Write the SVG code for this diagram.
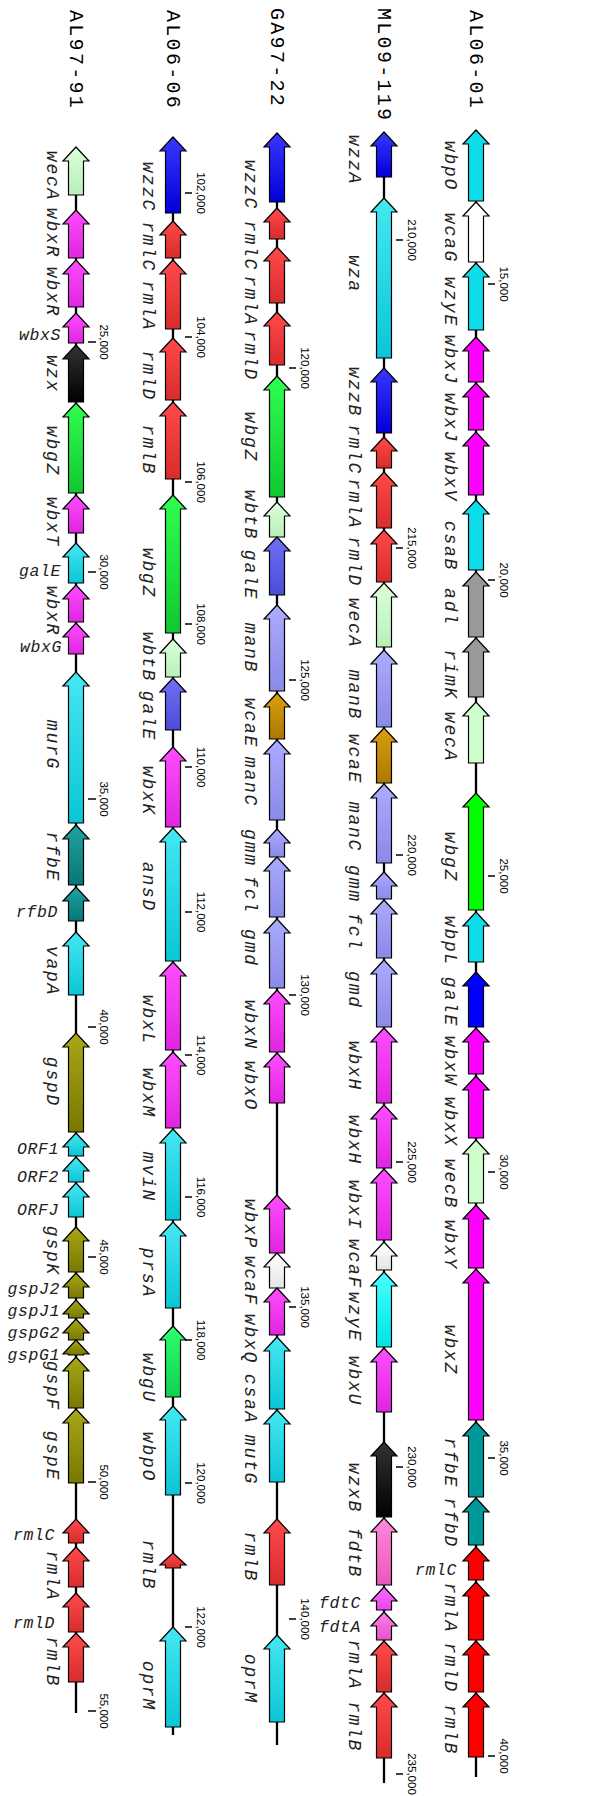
<svg xmlns="http://www.w3.org/2000/svg" width="605" height="1796" viewBox="0 0 605 1796">
<style>
.bb{stroke:#000;stroke-width:2.3;fill:none}
.tm{stroke:#000;stroke-width:1.5}
path{stroke:#000;stroke-width:1.2;stroke-linejoin:miter}
.ttl{font-family:"Liberation Mono",monospace;font-size:20px;letter-spacing:2.3px;fill:#000}
.lb{font-family:"Liberation Mono",monospace;font-style:italic;font-size:18px;letter-spacing:1.8px;fill:#222;text-anchor:middle}
.lh{font-family:"Liberation Mono",monospace;font-style:italic;font-size:16.5px;letter-spacing:0.6px;fill:#222;text-anchor:end}
.tk{font-family:"Liberation Sans",Arial,sans-serif;font-size:11.5px;fill:#000;text-anchor:middle}
.fcy{fill:#0ddde8}.fwh{fill:#fff}.fmg{fill:#ff00ff}.fgy{fill:#999}.flg{fill:#ccffcc}.fgr{fill:#00ff00}.fbl{fill:#0000ff}.ftl{fill:#009999}.frd{fill:#ff0000}
.cy{fill:url(#gCy)}.mg{fill:url(#gMg)}.rd{fill:url(#gRd)}.gr{fill:url(#gGr)}.bl{fill:url(#gBl)}.lg{fill:url(#gLg)}.pe{fill:url(#gPe)}.dp{fill:url(#gDp)}.go{fill:url(#gGo)}.tl{fill:url(#gTl)}.ol{fill:url(#gOl)}.bk{fill:url(#gBk)}.wh{fill:url(#gWh)}.aq{fill:url(#gAq)}.pk{fill:url(#gPk)}.pm{fill:url(#gPm)}.pa{fill:url(#gPa)}.gu{fill:url(#gGu)}
</style>
<defs>
<linearGradient id="gCy" x1="0" y1="0" x2="0" y2="1"><stop offset="0" stop-color="#45e8f2"/><stop offset="1" stop-color="#0ac6d6"/></linearGradient>
<linearGradient id="gMg" x1="0" y1="0" x2="0" y2="1"><stop offset="0" stop-color="#ff4dff"/><stop offset="1" stop-color="#e025e0"/></linearGradient>
<linearGradient id="gRd" x1="0" y1="0" x2="0" y2="1"><stop offset="0" stop-color="#ff4a4a"/><stop offset="1" stop-color="#d82c2c"/></linearGradient>
<linearGradient id="gGr" x1="0" y1="0" x2="0" y2="1"><stop offset="0" stop-color="#30ff50"/><stop offset="1" stop-color="#10c830"/></linearGradient>
<linearGradient id="gGu" x1="0" y1="0" x2="0" y2="1"><stop offset="0" stop-color="#30ff70"/><stop offset="1" stop-color="#10d050"/></linearGradient>
<linearGradient id="gBl" x1="0" y1="0" x2="0" y2="1"><stop offset="0" stop-color="#3838ff"/><stop offset="1" stop-color="#0000d8"/></linearGradient>
<linearGradient id="gLg" x1="0" y1="0" x2="0" y2="1"><stop offset="0" stop-color="#dcffdc"/><stop offset="1" stop-color="#b8f0b8"/></linearGradient>
<linearGradient id="gPe" x1="0" y1="0" x2="0" y2="1"><stop offset="0" stop-color="#ababff"/><stop offset="1" stop-color="#8a8ae8"/></linearGradient>
<linearGradient id="gDp" x1="0" y1="0" x2="0" y2="1"><stop offset="0" stop-color="#7070f4"/><stop offset="1" stop-color="#4c4cd8"/></linearGradient>
<linearGradient id="gGo" x1="0" y1="0" x2="0" y2="1"><stop offset="0" stop-color="#d8a010"/><stop offset="1" stop-color="#ad7800"/></linearGradient>
<linearGradient id="gTl" x1="0" y1="0" x2="0" y2="1"><stop offset="0" stop-color="#22a2a2"/><stop offset="1" stop-color="#087676"/></linearGradient>
<linearGradient id="gOl" x1="0" y1="0" x2="0" y2="1"><stop offset="0" stop-color="#a8a818"/><stop offset="1" stop-color="#787800"/></linearGradient>
<linearGradient id="gBk" x1="0" y1="0" x2="0" y2="1"><stop offset="0" stop-color="#333"/><stop offset="1" stop-color="#000"/></linearGradient>
<linearGradient id="gWh" x1="0" y1="0" x2="0" y2="1"><stop offset="0" stop-color="#fff"/><stop offset="1" stop-color="#e4e4e4"/></linearGradient>
<linearGradient id="gAq" x1="0" y1="0" x2="0" y2="1"><stop offset="0" stop-color="#48ffff"/><stop offset="1" stop-color="#00e4e4"/></linearGradient>
<linearGradient id="gPk" x1="0" y1="0" x2="0" y2="1"><stop offset="0" stop-color="#ff88dd"/><stop offset="1" stop-color="#e858b8"/></linearGradient>
<linearGradient id="gPm" x1="0" y1="0" x2="0" y2="1"><stop offset="0" stop-color="#ff6aff"/><stop offset="1" stop-color="#ec44ec"/></linearGradient>
<linearGradient id="gPa" x1="0" y1="0" x2="0" y2="1"><stop offset="0" stop-color="#ff7aee"/><stop offset="1" stop-color="#e655cc"/></linearGradient>
</defs>

<g id="connectors">
<line class="bb" x1="476" y1="130" x2="476" y2="1777"/>
<line class="bb" x1="384" y1="132" x2="384" y2="1783"/>
<line class="bb" x1="277" y1="133" x2="277" y2="1745"/>
<line class="bb" x1="173" y1="137" x2="173" y2="1735"/>
<line class="bb" x1="76" y1="147" x2="76" y2="1713"/>
</g>

<g id="axis">
<line class="tm" x1="488" x2="495" y1="284" y2="284"/><text class="tk" transform="translate(500 284) rotate(90)">15,000</text>
<line class="tm" x1="488" x2="495" y1="580" y2="580"/><text class="tk" transform="translate(500 580) rotate(90)">20,000</text>
<line class="tm" x1="488" x2="495" y1="876" y2="876"/><text class="tk" transform="translate(500 876) rotate(90)">25,000</text>
<line class="tm" x1="488" x2="495" y1="1172" y2="1172"/><text class="tk" transform="translate(500 1172) rotate(90)">30,000</text>
<line class="tm" x1="488" x2="495" y1="1458" y2="1458"/><text class="tk" transform="translate(500 1458) rotate(90)">35,000</text>
<line class="tm" x1="488" x2="495" y1="1756" y2="1756"/><text class="tk" transform="translate(500 1756) rotate(90)">40,000</text>

<line class="tm" x1="396" x2="403" y1="240" y2="240"/><text class="tk" transform="translate(408 240) rotate(90)">210,000</text>
<line class="tm" x1="396" x2="403" y1="548" y2="548"/><text class="tk" transform="translate(408 548) rotate(90)">215,000</text>
<line class="tm" x1="396" x2="403" y1="855" y2="855"/><text class="tk" transform="translate(408 855) rotate(90)">220,000</text>
<line class="tm" x1="396" x2="403" y1="1162" y2="1162"/><text class="tk" transform="translate(408 1162) rotate(90)">225,000</text>
<line class="tm" x1="396" x2="403" y1="1467" y2="1467"/><text class="tk" transform="translate(408 1467) rotate(90)">230,000</text>
<line class="tm" x1="396" x2="403" y1="1774" y2="1774"/><text class="tk" transform="translate(408 1774) rotate(90)">235,000</text>

<line class="tm" x1="289" x2="296" y1="368" y2="368"/><text class="tk" transform="translate(301 368) rotate(90)">120,000</text>
<line class="tm" x1="289" x2="296" y1="680" y2="680"/><text class="tk" transform="translate(301 680) rotate(90)">125,000</text>
<line class="tm" x1="289" x2="296" y1="995" y2="995"/><text class="tk" transform="translate(301 995) rotate(90)">130,000</text>
<line class="tm" x1="289" x2="296" y1="1307" y2="1307"/><text class="tk" transform="translate(301 1307) rotate(90)">135,000</text>
<line class="tm" x1="289" x2="296" y1="1619" y2="1619"/><text class="tk" transform="translate(301 1619) rotate(90)">140,000</text>

<line class="tm" x1="185" x2="192" y1="193" y2="193"/><text class="tk" transform="translate(197 193) rotate(90)">102,000</text>
<line class="tm" x1="185" x2="192" y1="337" y2="337"/><text class="tk" transform="translate(197 337) rotate(90)">104,000</text>
<line class="tm" x1="185" x2="192" y1="482" y2="482"/><text class="tk" transform="translate(197 482) rotate(90)">106,000</text>
<line class="tm" x1="185" x2="192" y1="624" y2="624"/><text class="tk" transform="translate(197 624) rotate(90)">108,000</text>
<line class="tm" x1="185" x2="192" y1="767" y2="767"/><text class="tk" transform="translate(197 767) rotate(90)">110,000</text>
<line class="tm" x1="185" x2="192" y1="912" y2="912"/><text class="tk" transform="translate(197 912) rotate(90)">112,000</text>
<line class="tm" x1="185" x2="192" y1="1055" y2="1055"/><text class="tk" transform="translate(197 1055) rotate(90)">114,000</text>
<line class="tm" x1="185" x2="192" y1="1197" y2="1197"/><text class="tk" transform="translate(197 1197) rotate(90)">116,000</text>
<line class="tm" x1="185" x2="192" y1="1340" y2="1340"/><text class="tk" transform="translate(197 1340) rotate(90)">118,000</text>
<line class="tm" x1="185" x2="192" y1="1483" y2="1483"/><text class="tk" transform="translate(197 1483) rotate(90)">120,000</text>
<line class="tm" x1="185" x2="192" y1="1627" y2="1627"/><text class="tk" transform="translate(197 1627) rotate(90)">122,000</text>

<line class="tm" x1="88" x2="96" y1="342" y2="342"/><text class="tk" transform="translate(100 342) rotate(90)">25,000</text>
<line class="tm" x1="88" x2="96" y1="572" y2="572"/><text class="tk" transform="translate(100 572) rotate(90)">30,000</text>
<line class="tm" x1="88" x2="96" y1="799" y2="799"/><text class="tk" transform="translate(100 799) rotate(90)">35,000</text>
<line class="tm" x1="88" x2="96" y1="1027" y2="1027"/><text class="tk" transform="translate(100 1027) rotate(90)">40,000</text>
<line class="tm" x1="88" x2="96" y1="1257" y2="1257"/><text class="tk" transform="translate(100 1257) rotate(90)">45,000</text>
<line class="tm" x1="88" x2="96" y1="1482" y2="1482"/><text class="tk" transform="translate(100 1482) rotate(90)">50,000</text>
<line class="tm" x1="88" x2="96" y1="1711" y2="1711"/><text class="tk" transform="translate(100 1711) rotate(90)">55,000</text>
</g>

<g id="track-AL06-01">
<text class="ttl" transform="translate(469.5 10) rotate(90)">AL06-01</text>
<g id="a1-wbpO"><path class="fcy" d="M476 130L489 144H483.5V201H468.5V144H463Z"/><text class="lb" transform="translate(445 166) rotate(90)">wbpO</text></g>
<g id="a1-wcaG"><path class="fwh" d="M476 202L489 216H483.5V262H468.5V216H463Z"/><text class="lb" transform="translate(445 238) rotate(90)">wcaG</text></g>
<g id="a1-wzyE"><path class="fcy" d="M476 263L489 277H483.5V330H468.5V277H463Z"/><text class="lb" transform="translate(445 302) rotate(90)">wzyE</text></g>
<g id="a1-wbxJ"><path class="fmg" d="M476 337L489 351H483.5V382H468.5V351H463Z"/><text class="lb" transform="translate(445 360) rotate(90)">wbxJ</text></g>
<g id="a1-wbxJ2"><path class="fmg" d="M476 383L489 397H483.5V430H468.5V397H463Z"/><text class="lb" transform="translate(445 418) rotate(90)">wbxJ</text></g>
<g id="a1-wbxV"><path class="fmg" d="M476 432L489 446H483.5V495H468.5V446H463Z"/><text class="lb" transform="translate(445 477) rotate(90)">wbxV</text></g>
<g id="a1-csaB"><path class="fcy" d="M476 500L489 514H483.5V570H468.5V514H463Z"/><text class="lb" transform="translate(445 546) rotate(90)">csaB</text></g>
<g id="a1-adl"><path class="fgy" d="M476 572L489 586H483.5V637H468.5V586H463Z"/><text class="lb" transform="translate(445 607) rotate(90)">adl</text></g>
<g id="a1-rimK"><path class="fgy" d="M476 638L489 652H483.5V697H468.5V652H463Z"/><text class="lb" transform="translate(445 675) rotate(90)">rimK</text></g>
<g id="a1-wecA"><path class="flg" d="M476 702L489 716H483.5V763H468.5V716H463Z"/><text class="lb" transform="translate(445 737) rotate(90)">wecA</text></g>
<g id="a1-wbgZ"><path class="fgr" d="M476 793L489 807H483.5V910H468.5V807H463Z"/><text class="lb" transform="translate(445 857) rotate(90)">wbgZ</text></g>
<g id="a1-wbpL"><path class="fcy" d="M476 912L489 926H483.5V962H468.5V926H463Z"/><text class="lb" transform="translate(445 941) rotate(90)">wbpL</text></g>
<g id="a1-galE"><path class="fbl" d="M476 972L489 986H483.5V1027H468.5V986H463Z"/><text class="lb" transform="translate(445 1002) rotate(90)">galE</text></g>
<g id="a1-wbxW"><path class="fmg" d="M476 1028L489 1042H483.5V1074H468.5V1042H463Z"/><text class="lb" transform="translate(445 1061) rotate(90)">wbxW</text></g>
<g id="a1-wbxX"><path class="fmg" d="M476 1076L489 1090H483.5V1138H468.5V1090H463Z"/><text class="lb" transform="translate(445 1122) rotate(90)">wbxX</text></g>
<g id="a1-wecB"><path class="flg" d="M476 1140L489 1154H483.5V1203H468.5V1154H463Z"/><text class="lb" transform="translate(445 1184) rotate(90)">wecB</text></g>
<g id="a1-wbxY"><path class="fmg" d="M476 1205L489 1219H483.5V1268H468.5V1219H463Z"/><text class="lb" transform="translate(445 1245) rotate(90)">wbxY</text></g>
<g id="a1-wbxZ"><path class="fmg" d="M476 1269L489 1283H483.5V1420H468.5V1283H463Z"/><text class="lb" transform="translate(445 1350) rotate(90)">wbxZ</text></g>
<g id="a1-rfbE"><path class="ftl" d="M476 1422L489 1436H483.5V1497H468.5V1436H463Z"/><text class="lb" transform="translate(445 1463) rotate(90)">rfbE</text></g>
<g id="a1-rfbD"><path class="ftl" d="M476 1498L489 1512H483.5V1545H468.5V1512H463Z"/><text class="lb" transform="translate(445 1523) rotate(90)">rfbD</text></g>
<g id="a1-rmlC"><path class="frd" d="M476 1547L489 1561H483.5V1580H468.5V1561H463Z"/><text class="lh" x="457" y="1575">rmlC</text></g>
<g id="a1-rmlA"><path class="frd" d="M476 1582L489 1596H483.5V1640H468.5V1596H463Z"/><text class="lb" transform="translate(445 1608) rotate(90)">rmlA</text></g>
<g id="a1-rmlD"><path class="frd" d="M476 1641L489 1655H483.5V1692H468.5V1655H463Z"/><text class="lb" transform="translate(445 1668) rotate(90)">rmlD</text></g>
<g id="a1-rmlB"><path class="frd" d="M476 1693L489 1707H483.5V1757H468.5V1707H463Z"/><text class="lb" transform="translate(445 1730) rotate(90)">rmlB</text></g>
</g>

<g id="track-ML09-119">
<text class="ttl" transform="translate(377.5 8) rotate(90)">ML09-119</text>
<g id="m-wzzA"><path class="bl" d="M384 132L397 146H391.5V177H376.5V146H371Z"/><text class="lb" transform="translate(349 160) rotate(90)">wzzA</text></g>
<g id="m-wza"><path class="cy" d="M384 198L397 212H391.5V358H376.5V212H371Z"/><text class="lb" transform="translate(349 274) rotate(90)">wza</text></g>
<g id="m-wzzB"><path class="bl" d="M384 368L397 382H391.5V433H376.5V382H371Z"/><text class="lb" transform="translate(349 392) rotate(90)">wzzB</text></g>
<g id="m-rmlC"><path class="rd" d="M384 437L397 451H391.5V468H376.5V451H371Z"/><text class="lb" transform="translate(349 450) rotate(90)">rmlC</text></g>
<g id="m-rmlA"><path class="rd" d="M384 472L397 486H391.5V528H376.5V486H371Z"/><text class="lb" transform="translate(349 504) rotate(90)">rmlA</text></g>
<g id="m-rmlD"><path class="rd" d="M384 530L397 544H391.5V582H376.5V544H371Z"/><text class="lb" transform="translate(349 562) rotate(90)">rmlD</text></g>
<g id="m-wecA"><path class="lg" d="M384 583L397 597H391.5V647H376.5V597H371Z"/><text class="lb" transform="translate(349 623) rotate(90)">wecA</text></g>
<g id="m-manB"><path class="pe" d="M384 650L397 664H391.5V727H376.5V664H371Z"/><text class="lb" transform="translate(349 695) rotate(90)">manB</text></g>
<g id="m-wcaE"><path class="go" d="M384 728L397 742H391.5V783H376.5V742H371Z"/><text class="lb" transform="translate(349 759) rotate(90)">wcaE</text></g>
<g id="m-manC"><path class="pe" d="M384 784L397 798H391.5V863H376.5V798H371Z"/><text class="lb" transform="translate(349 827) rotate(90)">manC</text></g>
<g id="m-gmm"><path class="pe" d="M384 872L397 886H391.5V899H376.5V886H371Z"/><text class="lb" transform="translate(349 884) rotate(90)">gmm</text></g>
<g id="m-fcl"><path class="pe" d="M384 900L397 914H391.5V958H376.5V914H371Z"/><text class="lb" transform="translate(349 932) rotate(90)">fcl</text></g>
<g id="m-gmd"><path class="pe" d="M384 960L397 974H391.5V1027H376.5V974H371Z"/><text class="lb" transform="translate(349 990) rotate(90)">gmd</text></g>
<g id="m-wbxH"><path class="mg" d="M384 1028L397 1042H391.5V1103H376.5V1042H371Z"/><text class="lb" transform="translate(349 1066) rotate(90)">wbxH</text></g>
<g id="m-wbxH2"><path class="mg" d="M384 1105L397 1119H391.5V1168H376.5V1119H371Z"/><text class="lb" transform="translate(349 1140) rotate(90)">wbxH</text></g>
<g id="m-wbxI"><path class="mg" d="M384 1169L397 1183H391.5V1240H376.5V1183H371Z"/><text class="lb" transform="translate(349 1205) rotate(90)">wbxI</text></g>
<g id="m-wcaF"><path class="wh" d="M384 1242L397 1256H391.5V1270H376.5V1256H371Z"/><text class="lb" transform="translate(349 1264) rotate(90)">wcaF</text></g>
<g id="m-wzyE"><path class="aq" d="M384 1272L397 1286H391.5V1347H376.5V1286H371Z"/><text class="lb" transform="translate(349 1317) rotate(90)">wzyE</text></g>
<g id="m-wbxU"><path class="mg" d="M384 1348L397 1362H391.5V1412H376.5V1362H371Z"/><text class="lb" transform="translate(349 1381) rotate(90)">wbxU</text></g>
<g id="m-wzxB"><path class="bk" d="M384 1442L397 1456H391.5V1517H376.5V1456H371Z"/><text class="lb" transform="translate(349 1488) rotate(90)">wzxB</text></g>
<g id="m-fdtB"><path class="pk" d="M384 1518L397 1532H391.5V1585H376.5V1532H371Z"/><text class="lb" transform="translate(349 1553) rotate(90)">fdtB</text></g>
<g id="m-fdtC"><path class="pm" d="M384 1587L397 1601H391.5V1610H376.5V1601H371Z"/><text class="lh" x="361" y="1608">fdtC</text></g>
<g id="m-fdtA"><path class="pa" d="M384 1612L397 1626H391.5V1640H376.5V1626H371Z"/><text class="lh" x="361" y="1632">fdtA</text></g>
<g id="m-rmlA2"><path class="rd" d="M384 1641L397 1655H391.5V1692H376.5V1655H371Z"/><text class="lb" transform="translate(349 1665) rotate(90)">rmlA</text></g>
<g id="m-rmlB"><path class="rd" d="M384 1693L397 1707H391.5V1758H376.5V1707H371Z"/><text class="lb" transform="translate(349 1727) rotate(90)">rmlB</text></g>
</g>

<g id="track-GA97-22">
<text class="ttl" transform="translate(270.5 8) rotate(90)">GA97-22</text>
<g id="g-wzzC"><path class="bl" d="M277 133L290 147H284.5V202H269.5V147H264Z"/><text class="lb" transform="translate(245 185) rotate(90)">wzzC</text></g>
<g id="g-rmlC"><path class="rd" d="M277 208L290 222H284.5V239H269.5V222H264Z"/><text class="lb" transform="translate(245 246) rotate(90)">rmlC</text></g>
<g id="g-rmlA"><path class="rd" d="M277 247L290 261H284.5V303H269.5V261H264Z"/><text class="lb" transform="translate(245 301) rotate(90)">rmlA</text></g>
<g id="g-rmlD"><path class="rd" d="M277 312L290 326H284.5V365H269.5V326H264Z"/><text class="lb" transform="translate(245 356) rotate(90)">rmlD</text></g>
<g id="g-wbgZ"><path class="gr" d="M277 376L290 390H284.5V497H269.5V390H264Z"/><text class="lb" transform="translate(245 437) rotate(90)">wbgZ</text></g>
<g id="g-wbtB"><path class="lg" d="M277 502L290 516H284.5V537H269.5V516H264Z"/><text class="lb" transform="translate(245 515) rotate(90)">wbtB</text></g>
<g id="g-galE"><path class="dp" d="M277 537L290 551H284.5V595H269.5V551H264Z"/><text class="lb" transform="translate(245 575) rotate(90)">galE</text></g>
<g id="g-manB"><path class="pe" d="M277 605L290 619H284.5V691H269.5V619H264Z"/><text class="lb" transform="translate(245 648) rotate(90)">manB</text></g>
<g id="g-wcaE"><path class="go" d="M277 693L290 707H284.5V739H269.5V707H264Z"/><text class="lb" transform="translate(245 723) rotate(90)">wcaE</text></g>
<g id="g-manC"><path class="pe" d="M277 740L290 754H284.5V820H269.5V754H264Z"/><text class="lb" transform="translate(245 782) rotate(90)">manC</text></g>
<g id="g-gmm"><path class="pe" d="M277 829L290 843H284.5V857H269.5V843H264Z"/><text class="lb" transform="translate(245 848) rotate(90)">gmm</text></g>
<g id="g-fcl"><path class="pe" d="M277 857L290 871H284.5V917H269.5V871H264Z"/><text class="lb" transform="translate(245 895) rotate(90)">fcl</text></g>
<g id="g-gmd"><path class="pe" d="M277 919L290 933H284.5V988H269.5V933H264Z"/><text class="lb" transform="translate(245 948) rotate(90)">gmd</text></g>
<g id="g-wbxN"><path class="mg" d="M277 990L290 1004H284.5V1052H269.5V1004H264Z"/><text class="lb" transform="translate(245 1025) rotate(90)">wbxN</text></g>
<g id="g-wbxO"><path class="mg" d="M277 1053L290 1067H284.5V1103H269.5V1067H264Z"/><text class="lb" transform="translate(245 1086) rotate(90)">wbxO</text></g>
<g id="g-wbxP"><path class="mg" d="M277 1195L290 1209H284.5V1253H269.5V1209H264Z"/><text class="lb" transform="translate(245 1224) rotate(90)">wbxP</text></g>
<g id="g-wcaF"><path class="wh" d="M277 1253L290 1267H284.5V1288H269.5V1267H264Z"/><text class="lb" transform="translate(245 1281) rotate(90)">wcaF</text></g>
<g id="g-wbxQ"><path class="mg" d="M277 1288L290 1302H284.5V1335H269.5V1302H264Z"/><text class="lb" transform="translate(245 1339) rotate(90)">wbxQ</text></g>
<g id="g-csaA"><path class="cy" d="M277 1337L290 1351H284.5V1409H269.5V1351H264Z"/><text class="lb" transform="translate(245 1399) rotate(90)">csaA</text></g>
<g id="g-mutG"><path class="cy" d="M277 1410L290 1424H284.5V1482H269.5V1424H264Z"/><text class="lb" transform="translate(245 1460) rotate(90)">mutG</text></g>
<g id="g-rmlB"><path class="rd" d="M277 1519L290 1533H284.5V1585H269.5V1533H264Z"/><text class="lb" transform="translate(245 1557) rotate(90)">rmlB</text></g>
<g id="g-oprM"><path class="cy" d="M277 1635L290 1649H284.5V1722H269.5V1649H264Z"/><text class="lb" transform="translate(245 1679) rotate(90)">oprM</text></g>
</g>

<g id="track-AL06-06">
<text class="ttl" transform="translate(166.5 10) rotate(90)">AL06-06</text>
<g id="b-wzzC"><path class="bl" d="M173 137L186 151H180.5V213H165.5V151H160Z"/><text class="lb" transform="translate(143 187) rotate(90)">wzzC</text></g>
<g id="b-rmlC"><path class="rd" d="M173 221L186 235H180.5V258H165.5V235H160Z"/><text class="lb" transform="translate(143 247) rotate(90)">rmlC</text></g>
<g id="b-rmlA"><path class="rd" d="M173 260L186 274H180.5V329H165.5V274H160Z"/><text class="lb" transform="translate(143 306) rotate(90)">rmlA</text></g>
<g id="b-rmlD"><path class="rd" d="M173 338L186 352H180.5V400H165.5V352H160Z"/><text class="lb" transform="translate(143 376) rotate(90)">rmlD</text></g>
<g id="b-rmlB"><path class="rd" d="M173 402L186 416H180.5V479H165.5V416H160Z"/><text class="lb" transform="translate(143 450) rotate(90)">rmlB</text></g>
<g id="b-wbgZ"><path class="gr" d="M173 495L186 509H180.5V633H165.5V509H160Z"/><text class="lb" transform="translate(143 573) rotate(90)">wbgZ</text></g>
<g id="b-wbtB"><path class="lg" d="M173 639L186 653H180.5V677H165.5V653H160Z"/><text class="lb" transform="translate(143 657) rotate(90)">wbtB</text></g>
<g id="b-galE"><path class="dp" d="M173 678L186 692H180.5V730H165.5V692H160Z"/><text class="lb" transform="translate(143 716) rotate(90)">galE</text></g>
<g id="b-wbxK"><path class="mg" d="M173 747L186 761H180.5V827H165.5V761H160Z"/><text class="lb" transform="translate(143 791) rotate(90)">wbxK</text></g>
<g id="b-ansD"><path class="cy" d="M173 828L186 842H180.5V961H165.5V842H160Z"/><text class="lb" transform="translate(143 887) rotate(90)">ansD</text></g>
<g id="b-wbxL"><path class="mg" d="M173 962L186 976H180.5V1050H165.5V976H160Z"/><text class="lb" transform="translate(143 1020) rotate(90)">wbxL</text></g>
<g id="b-wbxM"><path class="mg" d="M173 1052L186 1066H180.5V1128H165.5V1066H160Z"/><text class="lb" transform="translate(143 1093) rotate(90)">wbxM</text></g>
<g id="b-mviN"><path class="cy" d="M173 1129L186 1143H180.5V1220H165.5V1143H160Z"/><text class="lb" transform="translate(143 1177) rotate(90)">mviN</text></g>
<g id="b-prsA"><path class="cy" d="M173 1222L186 1236H180.5V1308H165.5V1236H160Z"/><text class="lb" transform="translate(143 1273) rotate(90)">prsA</text></g>
<g id="b-wbgU"><path class="gu" d="M173 1326L186 1340H180.5V1397H165.5V1340H160Z"/><text class="lb" transform="translate(143 1378) rotate(90)">wbgU</text></g>
<g id="b-wbpO"><path class="cy" d="M173 1406L186 1420H180.5V1495H165.5V1420H160Z"/><text class="lb" transform="translate(143 1457) rotate(90)">wbpO</text></g>
<g id="b-rmlB2"><path class="rd" d="M173 1553L186 1565H180.5V1568H165.5V1565H160Z"/><text class="lb" transform="translate(143 1565) rotate(90)">rmlB</text></g>
<g id="b-oprM"><path class="cy" d="M173 1627L186 1641H180.5V1727H165.5V1641H160Z"/><text class="lb" transform="translate(143 1686) rotate(90)">oprM</text></g>
</g>

<g id="track-AL97-91">
<text class="ttl" transform="translate(69.5 10) rotate(90)">AL97-91</text>
<g id="c-wecA"><path class="lg" d="M76 147L89 161H83.5V195H68.5V161H63Z"/><text class="lb" transform="translate(47 176) rotate(90)">wecA</text></g>
<g id="c-wbxR"><path class="mg" d="M76 210L89 224H83.5V258H68.5V224H63Z"/><text class="lb" transform="translate(47 233) rotate(90)">wbxR</text></g>
<g id="c-wbxR2"><path class="mg" d="M76 260L89 274H83.5V307H68.5V274H63Z"/><text class="lb" transform="translate(47 292) rotate(90)">wbxR</text></g>
<g id="c-wbxS"><path class="mg" d="M76 313L89 327H83.5V343H68.5V327H63Z"/><text class="lh" x="61" y="340">wbxS</text></g>
<g id="c-wzx"><path class="bk" d="M76 345L89 359H83.5V402H68.5V359H63Z"/><text class="lb" transform="translate(47 374) rotate(90)">wzx</text></g>
<g id="c-wbgZ"><path class="gr" d="M76 403L89 417H83.5V493H68.5V417H63Z"/><text class="lb" transform="translate(47 451) rotate(90)">wbgZ</text></g>
<g id="c-wbxT"><path class="mg" d="M76 495L89 509H83.5V533H68.5V509H63Z"/><text class="lb" transform="translate(47 522) rotate(90)">wbxT</text></g>
<g id="c-galE"><path class="cy" d="M76 543L89 557H83.5V583H68.5V557H63Z"/><text class="lh" x="61" y="576">galE</text></g>
<g id="c-wbxR3"><path class="mg" d="M76 585L89 599H83.5V622H68.5V599H63Z"/><text class="lb" transform="translate(47 611) rotate(90)">wbxR</text></g>
<g id="c-wbxG"><path class="mg" d="M76 623L89 637H83.5V654H68.5V637H63Z"/><text class="lh" x="62" y="652">wbxG</text></g>
<g id="c-murG"><path class="cy" d="M76 672L89 686H83.5V823H68.5V686H63Z"/><text class="lb" transform="translate(47 745) rotate(90)">murG</text></g>
<g id="c-rfbE"><path class="tl" d="M76 825L89 839H83.5V885H68.5V839H63Z"/><text class="lb" transform="translate(47 857) rotate(90)">rfbE</text></g>
<g id="c-rfbD"><path class="tl" d="M76 887L89 901H83.5V921H68.5V901H63Z"/><text class="lh" x="58" y="917">rfbD</text></g>
<g id="c-vapA"><path class="cy" d="M76 932L89 946H83.5V995H68.5V946H63Z"/><text class="lb" transform="translate(47 971) rotate(90)">vapA</text></g>
<g id="c-gspD"><path class="ol" d="M76 1033L89 1047H83.5V1132H68.5V1047H63Z"/><text class="lb" transform="translate(47 1082) rotate(90)">gspD</text></g>
<g id="c-ORF1"><path class="cy" d="M76 1133L89 1147H83.5V1156H68.5V1147H63Z"/><text class="lh" x="59" y="1154">ORF1</text></g>
<g id="c-ORF2"><path class="cy" d="M76 1157L89 1171H83.5V1182H68.5V1171H63Z"/><text class="lh" x="59" y="1182">ORF2</text></g>
<g id="c-ORFJ"><path class="cy" d="M76 1183L89 1197H83.5V1217H68.5V1197H63Z"/><text class="lh" x="59" y="1215">ORFJ</text></g>
<g id="c-gspK"><path class="ol" d="M76 1227L89 1241H83.5V1272H68.5V1241H63Z"/><text class="lb" transform="translate(47 1251) rotate(90)">gspK</text></g>
<g id="c-gspJ2"><path class="ol" d="M76 1273L89 1287H83.5V1298H68.5V1287H63Z"/><text class="lh" x="60" y="1294">gspJ2</text></g>
<g id="c-gspJ1"><path class="ol" d="M76 1300L89 1314H83.5V1318H68.5V1314H63Z"/><text class="lh" x="60" y="1316">gspJ1</text></g>
<g id="c-gspG2"><path class="ol" d="M76 1319L89 1333H83.5V1340H68.5V1333H63Z"/><text class="lh" x="60" y="1338">gspG2</text></g>
<g id="c-gspG1"><path class="ol" d="M76 1340L89 1354H83.5V1355H68.5V1354H63Z"/><text class="lh" x="60" y="1360">gspG1</text></g>
<g id="c-gspF"><path class="ol" d="M76 1357L89 1371H83.5V1408H68.5V1371H63Z"/><text class="lb" transform="translate(47 1386) rotate(90)">gspF</text></g>
<g id="c-gspE"><path class="ol" d="M76 1409L89 1423H83.5V1483H68.5V1423H63Z"/><text class="lb" transform="translate(47 1456) rotate(90)">gspE</text></g>
<g id="c-rmlC"><path class="rd" d="M76 1519L89 1533H83.5V1543H68.5V1533H63Z"/><text class="lh" x="55" y="1540">rmlC</text></g>
<g id="c-rmlA"><path class="rd" d="M76 1547L89 1561H83.5V1587H68.5V1561H63Z"/><text class="lb" transform="translate(47 1576) rotate(90)">rmlA</text></g>
<g id="c-rmlD"><path class="rd" d="M76 1593L89 1607H83.5V1632H68.5V1607H63Z"/><text class="lh" x="55" y="1628">rmlD</text></g>
<g id="c-rmlB"><path class="rd" d="M76 1633L89 1647H83.5V1682H68.5V1647H63Z"/><text class="lb" transform="translate(47 1662) rotate(90)">rmlB</text></g>
</g>
</svg>
